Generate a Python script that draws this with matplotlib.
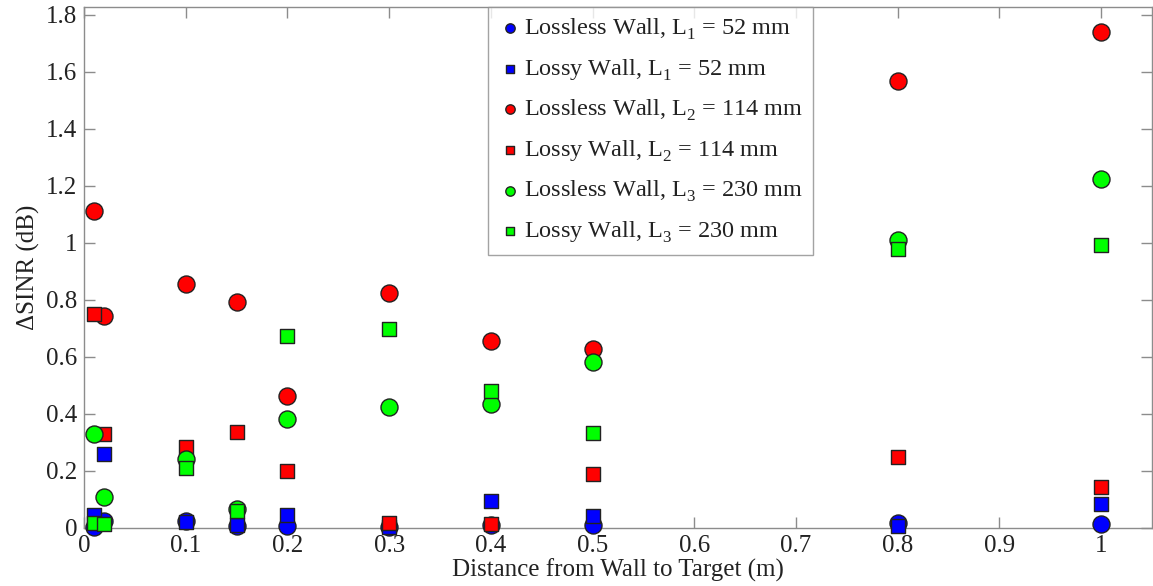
import matplotlib
matplotlib.use("Agg")
import matplotlib.pyplot as plt

plt.rcParams['font.family'] = ['Liberation Serif', 'DejaVu Serif']
plt.rcParams['mathtext.fontset'] = 'custom'
plt.rcParams['mathtext.rm'] = 'Liberation Serif'
plt.rcParams['mathtext.default'] = 'regular'

# distances from wall to target (m)
distance = [0.01, 0.02, 0.1, 0.15, 0.2, 0.3, 0.4, 0.5, 0.8, 1.0]

# ΔSINR (dB) per wall type and wall thickness
lossless_l1 = [0.005, 0.026, 0.026, 0.007, 0.008, 0.004, 0.012, 0.009, 0.019, 0.014]
lossy_l1    = [0.045, 0.260, 0.020, 0.010, 0.045, 0.003, 0.094, 0.042, 0.008, 0.084]
lossless_l2 = [1.113, 0.745, 0.856, 0.793, 0.463, 0.825, 0.657, 0.628, 1.568, 1.740]
lossy_l2    = [0.750, 0.329, 0.285, 0.336, 0.201, 0.016, 0.015, 0.189, 0.250, 0.143]
lossless_l3 = [0.330, 0.108, 0.242, 0.066, 0.382, 0.423, 0.435, 0.581, 1.010, 1.225]
lossy_l3    = [0.019, 0.014, 0.209, 0.060, 0.674, 0.697, 0.481, 0.332, 0.979, 0.993]

labels = [
    'Lossless Wall, L$^{\\ }_{1}$ = 52 mm',
    'Lossy Wall, L$^{\\ }_{1}$ = 52 mm',
    'Lossless Wall, L$^{\\ }_{2}$ = 114 mm',
    'Lossy Wall, L$^{\\ }_{2}$ = 114 mm',
    'Lossless Wall, L$^{\\ }_{3}$ = 230 mm',
    'Lossy Wall, L$^{\\ }_{3}$ = 230 mm',
]
series = [lossless_l1, lossy_l1, lossless_l2, lossy_l2, lossless_l3, lossy_l3]
colors = ['#0000ff', '#0000ff', '#ff0000', '#ff0000', '#00ff00', '#00ff00']
markers = ['o', 's', 'o', 's', 'o', 's']
sizes = [150, 100, 150, 100, 150, 100]

fig = plt.figure(figsize=(11.53, 5.86), dpi=100)
ax = fig.add_axes([84 / 1153, 1 - 528 / 586, (1152 - 84) / 1153, (528 - 7) / 586])

handles = []
for y, c, m, s, lab in zip(series, colors, markers, sizes, labels):
    h = ax.scatter(distance, y, s=s, marker=m, c=c, edgecolors='#222222',
                   linewidths=1.0, label=lab, zorder=3, clip_on=False)
    handles.append(h)

ax.set_xlim(0, 1.05)
ax.set_ylim(0, 1.828)
ax.set_xticks([0, 0.1, 0.2, 0.3, 0.4, 0.5, 0.6, 0.7, 0.8, 0.9, 1.0])
ax.set_xticklabels(['0', '0.1', '0.2', '0.3', '0.4', '0.5', '0.6', '0.7', '0.8', '0.9', '1'])
ax.set_yticks([0, 0.2, 0.4, 0.6, 0.8, 1.0, 1.2, 1.4, 1.6, 1.8])
ax.set_yticklabels(['0', '0.2', '0.4', '0.6', '0.8', '1', '1.2', '1.4', '1.6', '1.8'])

for sp in ax.spines.values():
    sp.set_color('#8c8c8c')
    sp.set_linewidth(1.0)
ax.tick_params(direction='in', length=8, width=1.0, color='#8c8c8c',
               top=True, right=True, labelsize=18, labelcolor='#222222', pad=5)

ax.set_xlabel('Distance from Wall to Target (m)', fontsize=18, color='#222222', labelpad=1)
ax.set_ylabel('ΔSINR (dB)', fontsize=18, color='#222222', labelpad=4)

leg = ax.legend(handles=handles, loc='upper left', bbox_to_anchor=((488 - 84) / 1068, 1.0),
                borderaxespad=0, fontsize=17.5, frameon=True, fancybox=False,
                handletextpad=0.1, handlelength=1.0, labelspacing=0.62,
                borderpad=0.4, markerscale=0.55)
leg.get_frame().set_edgecolor('#8c8c8c')
leg.get_frame().set_linewidth(1.0)
for t in leg.get_texts():
    t.set_color('#222222')

fig.savefig('out.png', dpi=100)
